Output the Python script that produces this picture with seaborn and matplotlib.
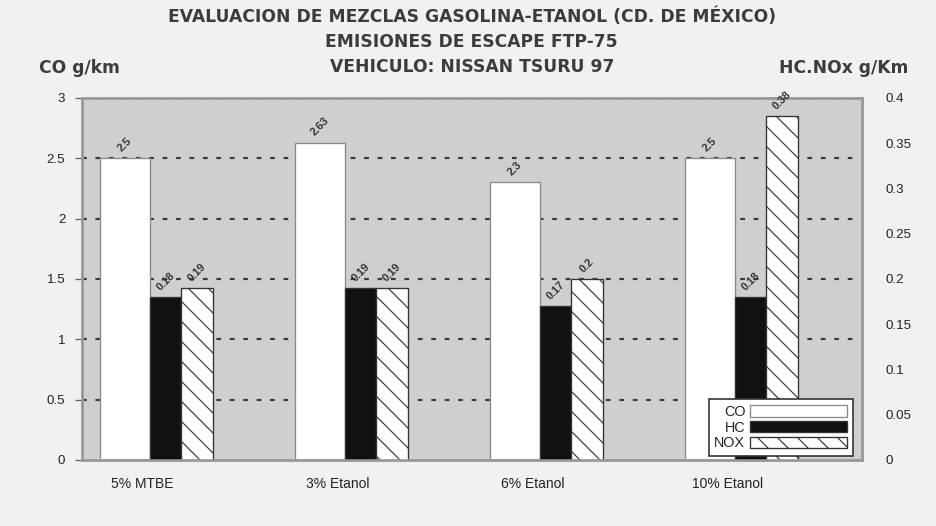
import pandas as pd
import matplotlib
matplotlib.use('Agg')
import matplotlib.pyplot as plt
import seaborn as sns

# Datos
mezclas = ['5% MTBE', '3% Etanol', '6% Etanol', '10% Etanol']
co = [2.5, 2.63, 2.3, 2.5]
hc = [0.18, 0.19, 0.17, 0.18]
nox = [0.19, 0.19, 0.2, 0.38]
co_ticks = [0, 0.5, 1, 1.5, 2, 2.5, 3]
hn_ticks = [0, 0.05, 0.1, 0.15, 0.2, 0.25, 0.3, 0.35, 0.4]

sns.set_theme(style='white')
plt.rcParams['font.family'] = ['Liberation Sans', 'DejaVu Sans']
plt.rcParams['hatch.linewidth'] = 0.7
plt.rcParams['hatch.color'] = '#111111'

df_co = pd.DataFrame({'mezcla': mezclas, 'CO': co})
df_hn = pd.DataFrame({'mezcla': mezclas * 2,
                      'valor': hc + nox,
                      'especie': ['HC'] * 4 + ['NOX'] * 4})

fig = plt.figure(figsize=(7.8, 526 / 120), dpi=120, facecolor='#f1f1f1')
ax = fig.add_axes([0.0876, 0.1255, 0.8333, 0.6882])
ax.set_facecolor('#cfcfcf')
ax2 = ax.twinx()

# CO en el eje izquierdo
sns.barplot(data=df_co, x='mezcla', y='CO', ax=ax, color='white', saturation=1,
            width=0.26, edgecolor='#8a8a8a', linewidth=0.8)
for p in ax.patches:
    p.set_x(p.get_x() - 0.29)

# HC y NOx en el eje derecho
sns.barplot(data=df_hn, x='mezcla', y='valor', hue='especie', ax=ax2,
            palette={'HC': '#111111', 'NOX': 'white'}, saturation=1,
            width=0.32, dodge=True, edgecolor='#333333', linewidth=0.8, legend=False)
for p in ax2.containers[1]:
    p.set_hatch('\\\\')

# lineas punteadas de referencia
for y in co_ticks[1:]:
    ax.axhline(y, color='#3a3a3a', ls=(0, (2.2, 4)), lw=1.3, zorder=0.5)

# etiquetas de valores
lab = dict(ha='center', va='bottom', rotation=45, fontsize=6.5, fontweight='bold',
           color='#333333', textcoords='offset points', xytext=(0, 3))
for p, v in zip(ax.patches, co):
    ax.annotate(f'{v:g}', (p.get_x() + p.get_width() / 2, v), **lab)
for cont, vals in zip(ax2.containers, [hc, nox]):
    for p, v in zip(cont, vals):
        ax2.annotate(f'{v:g}', (p.get_x() + p.get_width() / 2, v), **lab)

ax.set_ylim(0, 3)
ax2.set_ylim(0, 0.4)
ax.set_xlim(-0.51, 3.49)
ax.set_yticks(co_ticks, [f'{t:g}' for t in co_ticks])
ax2.set_yticks(hn_ticks, [f'{t:g}' for t in hn_ticks])
ax.set_xticks([i - 0.2 for i in range(4)], mezclas)
ax.set_xlabel('')
ax.set_ylabel('')
ax2.set_ylabel('')
ax.tick_params(axis='y', left=True, length=4, width=0.8, color='#666666',
               labelsize=8, pad=6, labelcolor='#222222')
ax.tick_params(axis='x', bottom=False, labelsize=8.3, pad=4, labelcolor='#222222')
ax2.tick_params(axis='y', right=False, labelsize=8, pad=8, labelcolor='#222222')
for a in (ax, ax2):
    for s in a.spines.values():
        s.set_color('#9a9a9a')
        s.set_linewidth(1.5)

leg = ax2.legend([ax.containers[0], ax2.containers[0], ax2.containers[1]],
                 ['CO', 'HC', 'NOX'], loc='lower right', bbox_to_anchor=(0.992, 0.003),
                 borderaxespad=0.2, markerfirst=False, handlelength=6.8, handleheight=0.85,
                 labelspacing=0.12, borderpad=0.4, handletextpad=0.3,
                 fontsize=8.6, fancybox=False, framealpha=1, edgecolor='#333333')
leg.get_frame().set_linewidth(1.0)

tit = dict(ha='center', va='center', fontsize=10.3, fontweight='bold',
           color='#3c3c3c', family='DejaVu Sans')
fig.text(0.504, 0.968, 'EVALUACION DE MEZCLAS GASOLINA-ETANOL (CD. DE MÉXICO)', **tit)
fig.text(0.504, 0.920, 'EMISIONES DE ESCAPE FTP-75', **tit)
fig.text(0.504, 0.873, 'VEHICULO: NISSAN TSURU 97', **tit)
fig.text(0.085, 0.871, 'CO g/km', **tit)
fig.text(0.901, 0.871, 'HC.NOx g/Km', **tit)

fig.savefig('out.png', dpi=120, facecolor=fig.get_facecolor())
